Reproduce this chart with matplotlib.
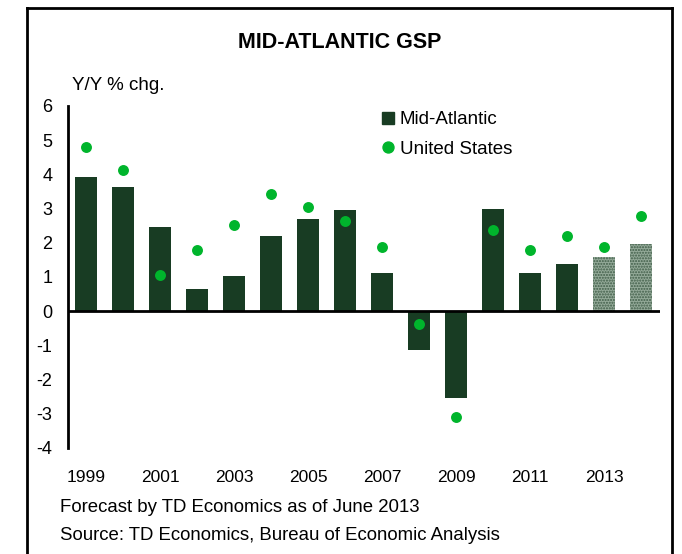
import matplotlib
matplotlib.use("Agg")
import matplotlib.pyplot as plt
from matplotlib.lines import Line2D
import numpy as np

years = [1999, 2000, 2001, 2002, 2003, 2004, 2005, 2006,
         2007, 2008, 2009, 2010, 2011, 2012, 2013, 2014]
mid_atlantic = [3.92, 3.63, 2.47, 0.64, 1.02, 2.19, 2.69, 2.96,
                1.11, -1.14, -2.54, 2.99, 1.11, 1.38, 1.58, 1.96]
united_states = [4.81, 4.12, 1.05, 1.78, 2.52, 3.43, 3.05, 2.63,
                 1.88, -0.36, -3.10, 2.36, 1.79, 2.19, 1.87, 2.77]
forecast_years = [2013, 2014]
tick_years = [1999, 2001, 2003, 2005, 2007, 2009, 2011, 2013]
y_ticks = [6, 5, 4, 3, 2, 1, 0, -1, -2, -3, -4]

plt.rcParams['font.family'] = ['Liberation Sans', 'DejaVu Sans']

W, H = 682, 554
fig = plt.figure(figsize=(W / 100, H / 100), dpi=100)
ax = fig.add_axes([67.5 / W, 1 - 448 / H, (659.5 - 67.5) / W, (448 - 106) / H])

dark = '#183c23'
bright = '#00b52c'
x = np.arange(len(years))
actual = [i for i, y in enumerate(years) if y not in forecast_years]
fcst = [i for i, y in enumerate(years) if y in forecast_years]

ax.bar(x[actual], [mid_atlantic[i] for i in actual], width=0.57,
       color=dark, zorder=2)
ax.bar(x[fcst], [mid_atlantic[i] for i in fcst], width=0.57,
       facecolor='#94aa99', edgecolor='#3f5c47', hatch='......',
       linewidth=0, zorder=2)
ax.scatter(x, united_states, s=62, color=bright, zorder=3, linewidths=0)

ax.axhline(0, color='black', lw=2, zorder=4)
ax.set_xlim(-0.5, len(years) - 0.5)
ax.set_ylim(-4, 6)
ax.set_yticks(y_ticks)
ax.set_yticklabels([str(v) for v in y_ticks])
ax.set_xticks([years.index(y) for y in tick_years])
ax.set_xticklabels([str(y) for y in tick_years])
ax.tick_params(axis='both', length=0)
ax.tick_params(axis='y', pad=11, labelsize=13)
ax.tick_params(axis='x', pad=16, labelsize=12.5)
for s in ['top', 'right', 'bottom']:
    ax.spines[s].set_visible(False)
ax.spines['left'].set_linewidth(2)
ax.patch.set_visible(False)

handles = [
    Line2D([], [], marker='s', color=dark, linestyle='none', markersize=8.6),
    Line2D([], [], marker='o', color=bright, linestyle='none', markersize=7.9),
]
ax.legend(handles, ['Mid-Atlantic', 'United States'], loc='upper left',
          bbox_to_anchor=(0.52, 1.007), frameon=False, fontsize=13.5,
          handlelength=0.6, handletextpad=0.3, labelspacing=0.66,
          borderaxespad=0)

fig.text(340 / W, 1 - 43 / H, 'MID-ATLANTIC GSP', ha='center', va='center',
         fontsize=15.5, fontweight='bold')
fig.text(72 / W, 1 - 85 / H, 'Y/Y % chg.', ha='left', va='center', fontsize=13.5)
fig.text(60 / W, 1 - 508 / H, 'Forecast by TD Economics as of June 2013',
         ha='left', va='center', fontsize=13.4)
fig.text(60 / W, 1 - 536 / H, 'Source: TD Economics, Bureau of Economic Analysis',
         ha='left', va='center', fontsize=13.4)

# outer frame
for xs, ys in [([27, 27], [8, H + 5]), ([672, 672], [8, H + 5]), ([27, 672], [8, 8])]:
    fig.add_artist(Line2D([v / W for v in xs], [1 - v / H for v in ys],
                          color='black', lw=2))

fig.savefig('out.png', dpi=100)
